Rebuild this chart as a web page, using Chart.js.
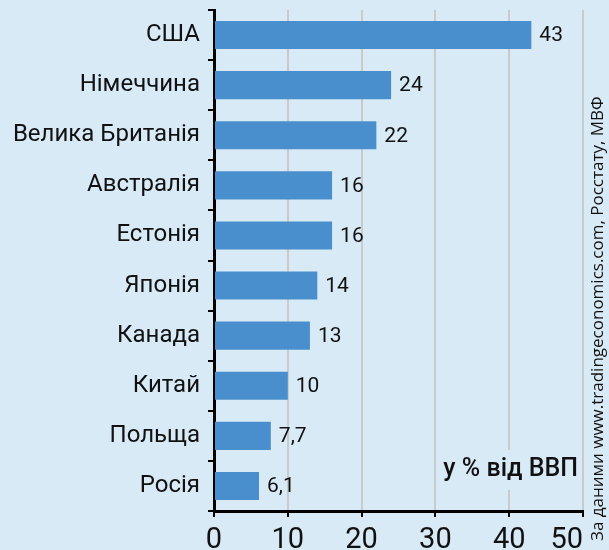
<!DOCTYPE html>
<html>
<head>
<meta charset="utf-8">
<script src="https://cdn.jsdelivr.net/npm/chart.js@4.4.1/dist/chart.umd.min.js"></script>
<style>
  html, body { margin: 0; padding: 0; background: #d9eaf7; }
  canvas { display: block; }
</style>
</head>
<body>
<canvas id="chart" width="609" height="550"></canvas>
<script>
const countries = ['США', 'Німеччина', 'Велика Британія', 'Австралія', 'Естонія', 'Японія', 'Канада', 'Китай', 'Польща', 'Росія'];
const shares = [43, 24, 22, 16, 16, 14, 13, 10, 7.7, 6.1];
const xTicks = [0, 10, 20, 30, 40, 50];
const unitNote = 'у % від ВВП';
const sourceNote = 'За даними www.tradingeconomics.com, Росстату, МВФ';

const bgColor = '#d9eaf7';
const barColor = '#4a8fcd';
const fontFamily = 'Roboto, "Noto Sans", sans-serif';

function fmt(v) {
  return String(v).replace('.', ',');
}

// value next to each bar
const valueLabels = {
  id: 'valueLabels',
  afterDatasetsDraw(chart) {
    const ctx = chart.ctx;
    const meta = chart.getDatasetMeta(0);
    ctx.save();
    ctx.font = '21px ' + fontFamily;
    ctx.fillStyle = '#111';
    ctx.textAlign = 'left';
    ctx.textBaseline = 'middle';
    meta.data.forEach((bar, i) => {
      ctx.fillText(fmt(shares[i]), bar.x + 8, bar.y + 1);
    });
    ctx.restore();
  }
};

// x tick labels: centred, the last one kept inside the plot
const xLabels = {
  id: 'xLabels',
  afterDraw(chart) {
    const ctx = chart.ctx;
    const sx = chart.scales.x;
    ctx.save();
    ctx.font = '29px ' + fontFamily;
    ctx.fillStyle = '#111';
    ctx.textBaseline = 'alphabetic';
    xTicks.forEach((v, i) => {
      const px = sx.getPixelForValue(v);
      ctx.textAlign = i === xTicks.length - 1 ? 'right' : 'center';
      ctx.fillText(String(v), px, 548);
    });
    ctx.restore();
  }
};

// "у % від ВВП" box and the rotated source line
const notes = {
  id: 'notes',
  afterDraw(chart) {
    const ctx = chart.ctx;
    const area = chart.chartArea;
    ctx.save();
    ctx.font = '500 25px ' + fontFamily;
    const w = ctx.measureText(unitNote).width;
    const right = area.right - 5;
    const cy = 470;
    ctx.fillStyle = bgColor;
    ctx.fillRect(right - w - 4, cy - 20, w + 6, 40);
    ctx.fillStyle = '#111';
    ctx.textAlign = 'right';
    ctx.textBaseline = 'middle';
    ctx.fillText(unitNote, right, cy);

    ctx.translate(598, 541);
    ctx.rotate(-Math.PI / 2);
    ctx.font = '17px "Open Sans", ' + fontFamily;
    ctx.textAlign = 'left';
    ctx.textBaseline = 'middle';
    ctx.fillText(sourceNote, 0, 0);
    ctx.restore();
  }
};

new Chart(document.getElementById('chart'), {
  type: 'bar',
  data: {
    labels: countries,
    datasets: [{
      data: shares,
      backgroundColor: barColor,
      borderWidth: 0,
      categoryPercentage: 1,
      barPercentage: 0.56
    }]
  },
  options: {
    indexAxis: 'y',
    responsive: false,
    animation: false,
    layout: { padding: { left: 0, right: 26, top: 10, bottom: 0 } },
    plugins: {
      legend: { display: false },
      tooltip: { enabled: false }
    },
    scales: {
      x: {
        min: 0,
        max: 50,
        ticks: {
          stepSize: 10,
          color: 'rgba(0,0,0,0)',
          font: { family: fontFamily, size: 29 }
        },
        grid: {
          color: '#c8cacc',
          lineWidth: 2,
          tickColor: '#000',
          tickLength: 6
        },
        border: { color: '#000', width: 3 },
        afterFit(scale) {
          scale.height = 39;
          scale.paddingLeft = 0;
          scale.paddingRight = 0;
        }
      },
      y: {
        ticks: {
          color: '#111',
          padding: 8,
          font: { family: fontFamily, size: 24 }
        },
        grid: {
          drawOnChartArea: false,
          tickColor: '#000',
          tickLength: 6,
          lineWidth: 2
        },
        border: { color: '#000', width: 3 },
        afterFit(scale) {
          scale.width = 214;
          scale.paddingTop = 0;
          scale.paddingBottom = 0;
        }
      }
    }
  },
  plugins: [valueLabels, xLabels, notes]
});
</script>
</body>
</html>
